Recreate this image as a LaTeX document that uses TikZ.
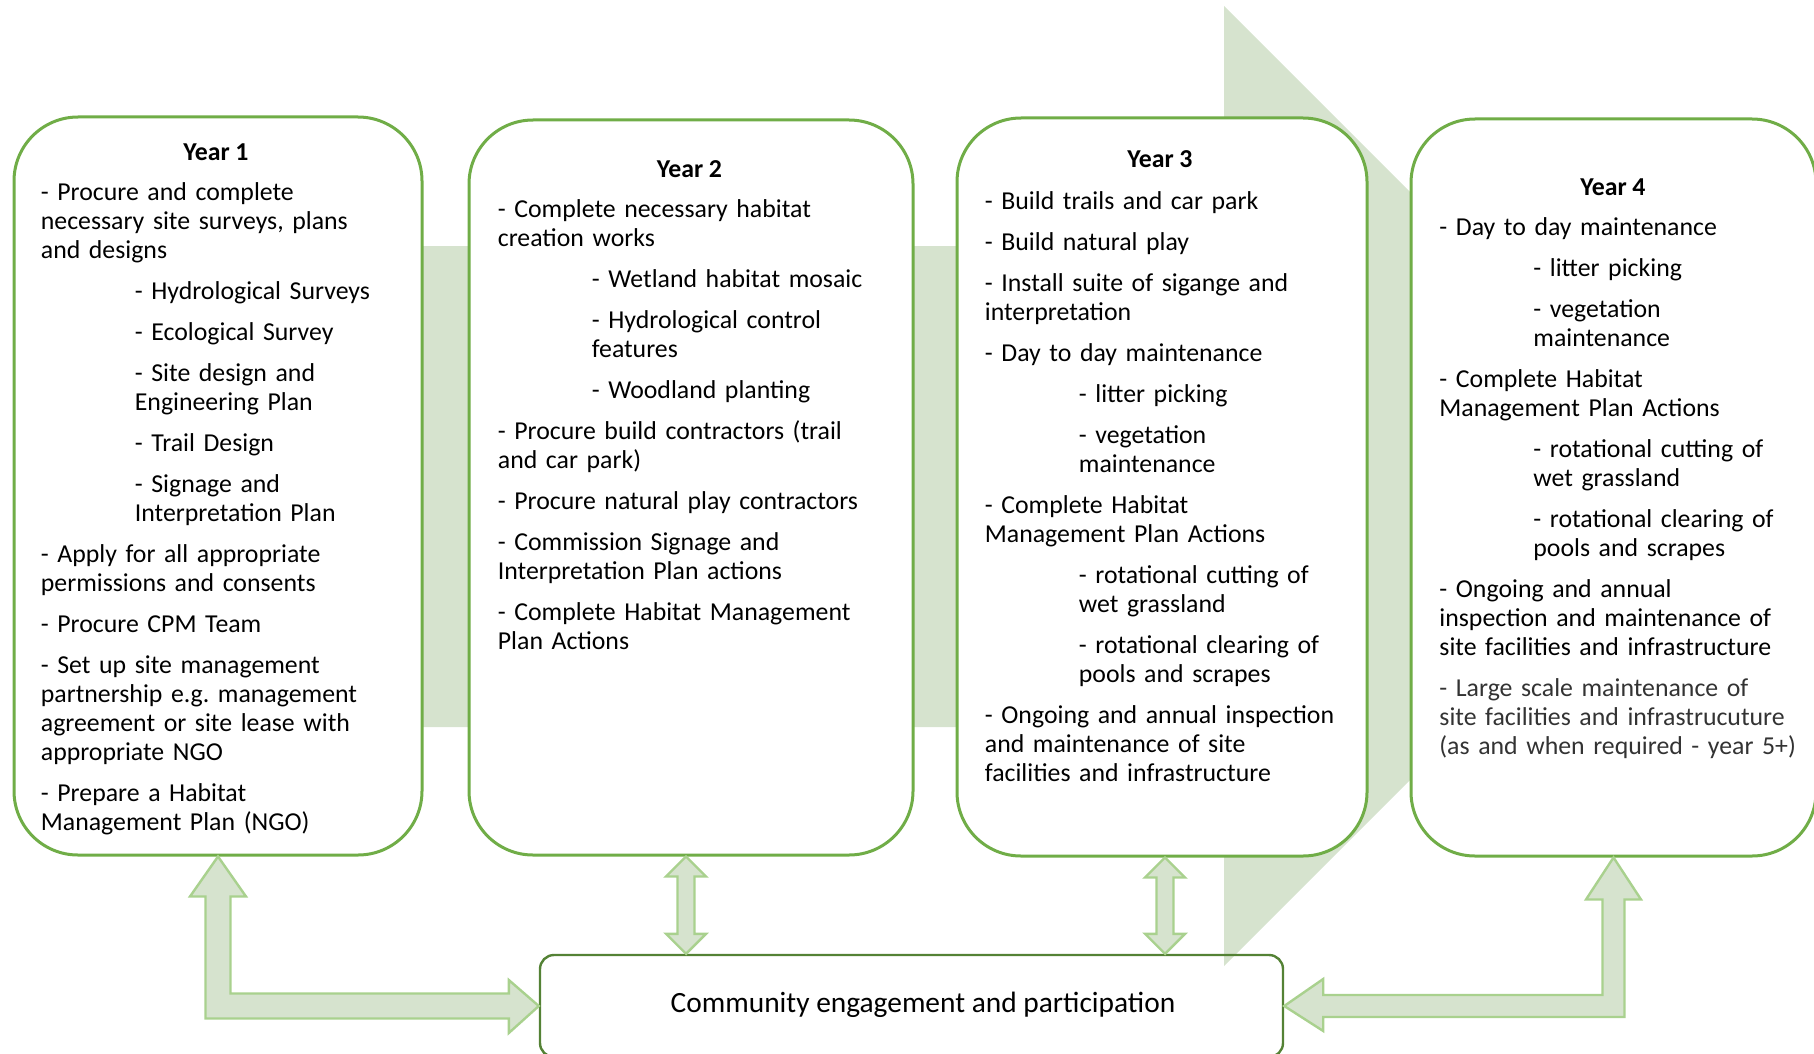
\documentclass[tikz,border=0pt]{standalone}
\usepackage{fontspec}
\setmainfont{Carlito}
\usetikzlibrary{calc}

\definecolor{boxgreen}{RGB}{112,173,71}
\definecolor{darkgreen}{RGB}{84,130,53}
\definecolor{palegreen}{RGB}{214,227,206}
\definecolor{arrowedge}{RGB}{169,209,142}

\newcommand{\yrsub}[1]{{\leftskip=47pt #1\par}}

\begin{document}
\begin{tikzpicture}[x=0.5pt,y=-0.5pt,
    yrbox/.style={draw=boxgreen,line width=1.5pt,fill=white,rounded corners=32pt,inner sep=0pt},
    commbox/.style={draw=darkgreen,line width=1.2pt,rounded corners=7pt,inner sep=0pt},
    yrtitle/.style={anchor=base,inner sep=0pt,font=\fontsize{12.9}{14.5}\selectfont\bfseries},
    yrtext/.style={anchor=base west,inner sep=0pt,text width=200pt,align=left,
      font=\fontsize{12.9}{14.5}\selectfont,execute at begin node={\setlength{\parskip}{6pt}}},
    blockarrow/.style={fill=palegreen,draw=arrowedge,line width=1.2pt,line join=miter}]
    \useasboundingbox (0,0) rectangle (1814,1054);

    % big arrow behind the years
    \fill[palegreen] (200,246) -- (1224,246) -- (1224,6) -- (1704,486)
      -- (1224,966) -- (1224,727) -- (200,727) -- cycle;

    \node[commbox,minimum width=371.5pt,minimum height=51pt] (comm) at (911.5,1006) {};
    \node[inner sep=0pt,font=\fontsize{14.7}{17}\selectfont] (commlbl) at (923,1005) {Community engagement and participation};

    \node[yrbox,minimum width=204pt,minimum height=369pt] (y1box) at (218,486) {};
    \node[yrbox,minimum width=222pt,minimum height=367.5pt] (y2box) at (691,487.5) {};
    \node[yrbox,minimum width=205pt,minimum height=369pt] (y3box) at (1162,487) {};
    \node[yrbox,minimum width=202.5pt,minimum height=368.5pt] (y4box) at (1613.5,487.5) {};

    \node[yrtitle] (y1title) at (216,160) {Year 1};
    \node[yrtitle] (y2title) at (689.5,177) {Year 2};
    \node[yrtitle] (y3title) at (1160,168) {Year 3};
    \node[yrtitle] (y4title) at (1613,195) {Year 4};

    \node[yrtext] (y1text) at (40.5,200) {%
      - Procure and complete\\ necessary site surveys, plans\\ and designs\par
      \yrsub{- Hydrological Surveys}
      \yrsub{- Ecological Survey}
      \yrsub{- Site design and\\ Engineering Plan}
      \yrsub{- Trail Design}
      \yrsub{- Signage and\\ Interpretation Plan}
      - Apply for all appropriate\\ permissions and consents\par
      - Procure CPM Team\par
      - Set up site management\\ partnership e.g.\ management\\ agreement or site lease with\\ appropriate NGO\par
      - Prepare a Habitat\\ Management Plan (NGO)};

    \node[yrtext] (y2text) at (497.5,217) {%
      - Complete necessary habitat\\ creation works\par
      \yrsub{- Wetland habitat mosaic}
      \yrsub{- Hydrological control\\ features}
      \yrsub{- Woodland planting}
      - Procure build contractors (trail\\ and car park)\par
      - Procure natural play contractors\par
      - Commission Signage and\\ Interpretation Plan actions\par
      - Complete Habitat Management\\ Plan Actions};

    \node[yrtext] (y3text) at (984.5,209) {%
      - Build trails and car park\par
      - Build natural play\par
      - Install suite of sigange and\\ interpretation\par
      - Day to day maintenance\par
      \yrsub{- litter picking}
      \yrsub{- vegetation\\ maintenance}
      - Complete Habitat\\ Management Plan Actions\par
      \yrsub{- rotational cutting of\\ wet grassland}
      \yrsub{- rotational clearing of\\ pools and scrapes}
      - Ongoing and annual inspection\\ and maintenance of site\\ facilities and infrastructure};

    \node[yrtext] (y4text) at (1439,235) {%
      - Day to day maintenance\par
      \yrsub{- litter picking}
      \yrsub{- vegetation\\ maintenance}
      - Complete Habitat\\ Management Plan Actions\par
      \yrsub{- rotational cutting of\\ wet grassland}
      \yrsub{- rotational clearing of\\ pools and scrapes}
      - Ongoing and annual\\ inspection and maintenance of\\ site facilities and infrastructure\par
      {\color{black!80}- Large scale maintenance of\\ site facilities and infrastrucuture\\ (as and when required - year 5+)}};

    % links to the community box
    \coordinate (y2foot) at ($(y2box.south)+(-5,0)$);
    \coordinate (y3foot) at ($(y3box.south)+(3,0)$);
    \draw[blockarrow] (y1box.south) -- ++(28,40) -- ++(-15.5,0)
      |- ($(comm.west)+(-30,-12.5)$) -- ++(0,-13.5) -- (comm.west)
      -- ++(-30,27) -- ++(0,-14.5) -| ($(y1box.south)+(-12.5,40)$) -- ++(-15.5,0) -- cycle;
    \draw[blockarrow] (y2foot) -- ++(20,20) -- ++(-11.5,0)
      -- ($(y2foot |- comm.north)+(8.5,-20)$) -- ++(11.5,0) -- (y2foot |- comm.north)
      -- ++(-20,-20) -- ++(11.5,0) -- ($(y2foot)+(-8.5,20)$) -- ++(-11.5,0) -- cycle;
    \draw[blockarrow] (y3foot) -- ++(20,20) -- ++(-11.5,0)
      -- ($(y3foot |- comm.north)+(8.5,-20)$) -- ++(11.5,0) -- (y3foot |- comm.north)
      -- ++(-20,-20) -- ++(11.5,0) -- ($(y3foot)+(-8.5,20)$) -- ++(-11.5,0) -- cycle;
    \draw[blockarrow] (y4box.south) -- ++(27.5,42) -- ++(-16.5,0)
      |- ($(comm.east)+(39,11)$) -- ++(0,14) -- (comm.east)
      -- ++(39,-27) -- ++(0,16) -| ($(y4box.south)+(-11,42)$) -- ++(-16.5,0) -- cycle;
\end{tikzpicture}
\end{document}
